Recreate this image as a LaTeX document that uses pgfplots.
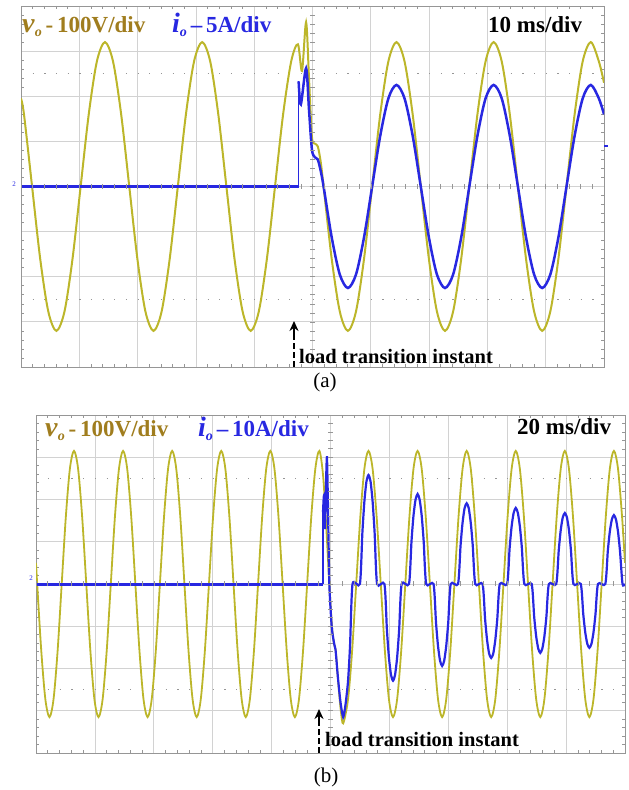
\documentclass[border=0pt]{standalone}
\usepackage{pgfplots}
\pgfplotsset{compat=1.18}
\usetikzlibrary{arrows.meta}
\usepackage{fontspec}
\setmainfont{Liberation Serif}
\definecolor{vcol}{RGB}{188,182,42}
\definecolor{vtxt}{RGB}{160,125,30}
\definecolor{icol}{RGB}{40,40,225}
\definecolor{gridc}{RGB}{210,210,210}
\definecolor{tickc}{RGB}{150,150,150}
\pgfplotsset{osc/.style={scale only axis, anchor=south west, ymin=-4, ymax=4,
  ytick={-4,-3,...,4}, grid=major, grid style={gridc, line width=0.8bp},
  minor x tick num=4, minor y tick num=4, major tick length=0pt, minor tick length=3bp,
  tick style={tickc, line width=0.6bp}, xticklabels={}, yticklabels={},
  axis line style={tickc, line width=0.9bp}, clip=true}}
\begin{document}
\begin{tikzpicture}
\begin{scope}[x=1bp,y=1bp]
\useasboundingbox (0,0) rectangle (626,790);
\end{scope}
% ---------------- panel (a) ----------------
\begin{axis}[osc, at={(21bp,423bp)}, width=583bp, height=361bp, xmin=0, xmax=100, xtick={0,10,...,100}]
\draw[tickc, line width=1.1bp, dash pattern=on 1.2bp off 10.46bp] (axis cs:0,2.5) -- (axis cs:100,2.5);
\draw[tickc, line width=1.1bp, dash pattern=on 1.2bp off 10.46bp] (axis cs:0,-2.5) -- (axis cs:100,-2.5);
\addplot[vcol, line width=2bp, smooth, tension=0.5] coordinates {
(0.00,1.95)(0.51,1.6)(1.90,0)(3.29,-1.6)(4.68,-2.77)(6.07,-3.2)(7.46,-2.77)(8.84,-1.6)(10.23,0)(11.62,1.6)(13.01,2.77)
(14.40,3.2)(15.79,2.77)(17.18,1.6)(18.57,0)(19.96,-1.6)(21.34,-2.77)(22.73,-3.2)(24.12,-2.77)(25.51,-1.6)(26.90,0)(28.29,1.6)(29.68,2.77)
(31.07,3.2)(32.46,2.77)(33.84,1.6)(35.23,0)(36.62,-1.6)(38.01,-2.77)(39.40,-3.2)(40.79,-2.77)(42.18,-1.6)(43.57,0)(44.96,1.6)(46.34,2.77)
(47.50,3.15)(48.20,2.56)(48.90,3.64)(49.40,2.4)(49.90,1.1)(50.40,0.95)(50.90,0.89)(51.40,0.55)(51.90,0)(53.29,-1.6)(54.68,-2.77)
(56.07,-3.2)(57.46,-2.77)(58.84,-1.6)(60.23,0)(61.62,1.6)(63.01,2.77)
(64.40,3.2)(65.79,2.77)(67.18,1.6)(68.57,0)(69.96,-1.6)(71.34,-2.77)(72.73,-3.2)(74.12,-2.77)(75.51,-1.6)(76.90,0)(78.29,1.6)(79.68,2.77)
(81.07,3.2)(82.46,2.77)(83.84,1.6)(85.23,0)(86.62,-1.6)(88.01,-2.77)(89.40,-3.2)(90.79,-2.77)(92.18,-1.6)(93.57,0)(94.96,1.6)(96.34,2.77)
(97.73,3.2)(99.12,2.77)(100.00,2.3)};
\addplot[icol, line width=3bp] coordinates {(0,0)(47.62,0)};
\addplot[icol, line width=1.6bp] coordinates {(47.62,0)(47.62,2.33)};
\addplot[icol, line width=2.5bp, smooth, tension=0.5] coordinates {
(47.62,2.33)(48.00,1.82)(48.90,2.62)(49.40,1.7)(49.90,0.82)(50.40,0.65)(50.90,0.6)(51.40,0.35)(51.90,0)
(53.29,-1.125)(54.68,-1.95)(56.07,-2.25)(57.46,-1.95)(58.84,-1.125)(60.23,0)(61.62,1.125)(63.01,1.95)
(64.40,2.25)(65.79,1.95)(67.18,1.125)(68.57,0)(69.96,-1.125)(71.34,-1.95)(72.73,-2.25)(74.12,-1.95)(75.51,-1.125)(76.90,0)(78.29,1.125)(79.68,1.95)
(81.07,2.25)(82.46,1.95)(83.84,1.125)(85.23,0)(86.62,-1.125)(88.01,-1.95)(89.40,-2.25)(90.79,-1.95)(92.18,-1.125)(93.57,0)(94.96,1.125)(96.34,1.95)
(97.73,2.25)(99.12,1.95)(100.00,1.6)};
\end{axis}
% ---------------- panel (b) ----------------
\begin{axis}[osc, at={(36bp,37bp)}, width=589bp, height=338bp, xmin=0, xmax=200, xtick={0,20,...,200}]
\draw[tickc, line width=1.1bp, dash pattern=on 1.2bp off 10.58bp] (axis cs:0,2.5) -- (axis cs:200,2.5);
\draw[tickc, line width=1.1bp, dash pattern=on 1.2bp off 10.58bp] (axis cs:0,-2.5) -- (axis cs:200,-2.5);
\addplot[vcol, line width=1.8bp, smooth, tension=0.5] coordinates {
(0.00,0.5)(0.40,0)(1.79,-1.58)(3.18,-2.73)(4.57,-3.15)(5.95,-2.73)(7.34,-1.58)(8.73,0)(10.12,1.58)(11.51,2.73)
(12.90,3.15)(14.29,2.73)(15.68,1.58)(17.07,0)(18.46,-1.58)(19.84,-2.73)(21.23,-3.15)(22.62,-2.73)(24.01,-1.58)(25.40,0)(26.79,1.58)(28.18,2.73)
(29.57,3.15)(30.96,2.73)(32.35,1.58)(33.74,0)(35.13,-1.58)(36.51,-2.73)(37.90,-3.15)(39.29,-2.73)(40.68,-1.58)(42.07,0)(43.46,1.58)(44.85,2.73)
(46.23,3.15)(47.62,2.73)(49.01,1.58)(50.40,0)(51.79,-1.58)(53.17,-2.73)(54.56,-3.15)(55.95,-2.73)(57.34,-1.58)(58.73,0)(60.12,1.58)(61.51,2.73)
(62.90,3.15)(64.29,2.73)(65.68,1.58)(67.07,0)(68.46,-1.58)(69.84,-2.73)(71.23,-3.15)(72.62,-2.73)(74.01,-1.58)(75.40,0)(76.79,1.58)(78.18,2.73)
(79.57,3.15)(80.96,2.73)(82.35,1.58)(83.74,0)(85.13,-1.58)(86.51,-2.73)(87.90,-3.15)(89.29,-2.73)(90.68,-1.58)(92.07,0)(93.46,1.58)(94.85,2.73)
(96.23,3.15)(97.50,2.55)(98.60,1.3)(99.60,0)(100.60,-1.1)(101.30,-1.45)(101.80,-1.6)(102.70,-2.4)(103.50,-3.0)(104.30,-3.3)
(105.95,-2.73)(107.34,-1.58)(108.73,0)(110.12,1.58)(111.51,2.73)
(112.90,3.15)(114.29,2.73)(115.68,1.58)(117.07,0)(118.46,-1.58)(119.84,-2.73)(121.23,-3.15)(122.62,-2.73)(124.01,-1.58)(125.40,0)(126.79,1.58)(128.18,2.73)
(129.57,3.15)(130.96,2.73)(132.35,1.58)(133.74,0)(135.13,-1.58)(136.51,-2.73)(137.90,-3.15)(139.29,-2.73)(140.68,-1.58)(142.07,0)(143.46,1.58)(144.85,2.73)
(146.23,3.15)(147.62,2.73)(149.01,1.58)(150.40,0)(151.79,-1.58)(153.17,-2.73)(154.56,-3.15)(155.95,-2.73)(157.34,-1.58)(158.73,0)(160.12,1.58)(161.51,2.73)
(162.90,3.15)(164.29,2.73)(165.68,1.58)(167.07,0)(168.46,-1.58)(169.84,-2.73)(171.23,-3.15)(172.62,-2.73)(174.01,-1.58)(175.40,0)(176.79,1.58)(178.18,2.73)
(179.57,3.15)(180.96,2.73)(182.35,1.58)(183.74,0)(185.13,-1.58)(186.51,-2.73)(187.90,-3.15)(189.29,-2.73)(190.68,-1.58)(192.07,0)(193.46,1.58)(194.85,2.73)
(196.23,3.15)(197.62,2.73)(199.01,1.58)(200.00,0.5)};
\addplot[icol, line width=3bp] coordinates {(0,0)(97.45,0)};
\addplot[icol, line width=1.6bp] coordinates {(97.45,0)(97.45,1.7)};
\addplot[icol, line width=2.2bp, smooth, tension=0.4] coordinates {
(97.45,1.7)(97.8,2.1)(98.1,1.3)(98.45,2.3)(98.8,3.0)(99.2,1.6)(99.6,0)(100.4,-1.0)(101.2,-1.4)(101.7,-1.55)(102.5,-2.2)(103.4,-2.8)
(104.30,-3.15)(105.10,-2.85)(105.95,-2.3)(106.64,-1.45)(107.48,0)(109.98,0)
(110.82,1.21)(111.51,1.96)(112.21,2.43)(112.90,2.58)(113.59,2.43)(114.29,1.96)(114.98,1.21)(115.82,0)(118.31,0)
(119.15,-1.08)(119.84,-1.74)(120.54,-2.15)(121.23,-2.29)(121.92,-2.15)(122.62,-1.74)(123.31,-1.08)(124.15,0)(126.65,0)
(127.49,1.00)(128.18,1.62)(128.88,2.00)(129.57,2.13)(130.26,2.00)(130.96,1.62)(131.65,1.00)(132.49,0)(134.98,0)
(135.82,-0.91)(136.51,-1.47)(137.21,-1.82)(137.90,-1.94)(138.59,-1.82)(139.29,-1.47)(139.98,-0.91)(140.82,0)(143.31,0)
(144.15,0.90)(144.84,1.45)(145.54,1.80)(146.23,1.91)(146.92,1.80)(147.62,1.45)(148.31,0.90)(149.15,0)(151.64,0)
(152.48,-0.82)(153.17,-1.33)(153.87,-1.65)(154.56,-1.75)(155.25,-1.65)(155.95,-1.33)(156.64,-0.82)(157.48,0)(159.98,0)
(160.82,0.85)(161.51,1.37)(162.21,1.69)(162.90,1.80)(163.59,1.69)(164.29,1.37)(164.98,0.85)(165.82,0)(168.31,0)
(169.15,-0.77)(169.84,-1.24)(170.54,-1.53)(171.23,-1.63)(171.92,-1.53)(172.62,-1.24)(173.31,-0.77)(174.15,0)(176.65,0)
(177.49,0.79)(178.18,1.28)(178.88,1.58)(179.57,1.68)(180.26,1.58)(180.96,1.28)(181.65,0.79)(182.49,0)(184.98,0)
(185.82,-0.71)(186.51,-1.15)(187.21,-1.42)(187.90,-1.51)(188.59,-1.42)(189.29,-1.15)(189.98,-0.71)(190.82,0)(193.31,0)
(194.15,0.77)(194.84,1.24)(195.54,1.53)(196.23,1.63)(196.92,1.53)(197.62,1.24)(198.31,0.77)(199.15,0)(200,0)};
\end{axis}
\begin{scope}[x=1bp,y=1bp]
% centre-line ticks (a)
\foreach \i in {0,...,50} \draw[tickc, line width=0.6bp] ({21+\i*11.66},601) -- ++(0,5);
\foreach \j in {0,...,40} \draw[tickc, line width=0.6bp] (310,{423+\j*9.025}) -- ++(5,0);
% markers (a)
\node[text=icol, font=\fontsize{7bp}{7bp}\selectfont, inner sep=0] at (14,606) {2};
\draw[icol, line width=1.2bp] (604,644) -- (608,644);
% texts (a)
\node[anchor=base west, text=vtxt, inner sep=0, font=\fontsize{23bp}{23bp}\selectfont\bfseries] at (22,757)
  {{\fontsize{28bp}{28bp}\selectfont\textit{v}}\raisebox{-0.15em}{\fontsize{14bp}{14bp}\selectfont\textit{o}}\,-\,100V/div};
\node[anchor=base west, text=icol, inner sep=0, font=\fontsize{23bp}{23bp}\selectfont\bfseries] at (172,757)
  {{\fontsize{28bp}{28bp}\selectfont\textit{i}}\raisebox{-0.15em}{\fontsize{14bp}{14bp}\selectfont\textit{o}}\,–\,5A/div};
\node[anchor=base west, inner sep=0, font=\fontsize{23bp}{23bp}\selectfont\bfseries] at (488,757) {10 ms/div};
\draw[line width=2.6bp, dash pattern=on 6bp off 3bp] (294,423) -- (294,456);
\draw[line width=2.6bp, -{Stealth[length=10bp,width=9bp]}] (294,453) -- (294,469);
\node[anchor=base west, inner sep=0, font=\fontsize{20.5bp}{20.5bp}\selectfont\bfseries] at (299,426) {load transition instant};
\node[anchor=base, inner sep=0, font=\fontsize{21bp}{21bp}\selectfont] at (325,402) {(a)};
% centre-line ticks (b)
\foreach \i in {0,...,50} \draw[tickc, line width=0.6bp] ({36+\i*11.78},203.5) -- ++(0,5);
\foreach \j in {0,...,40} \draw[tickc, line width=0.6bp] (328,{37+\j*8.45}) -- ++(5,0);
\node[text=icol, font=\fontsize{7bp}{7bp}\selectfont, inner sep=0] at (31,212) {2};
% texts (b)
\node[anchor=base west, text=vtxt, inner sep=0, font=\fontsize{23bp}{23bp}\selectfont\bfseries] at (45,353)
  {{\fontsize{28bp}{28bp}\selectfont\textit{v}}\raisebox{-0.15em}{\fontsize{14bp}{14bp}\selectfont\textit{o}}\,-\,100V/div};
\node[anchor=base west, text=icol, inner sep=0, font=\fontsize{23bp}{23bp}\selectfont\bfseries] at (198,353)
  {{\fontsize{28bp}{28bp}\selectfont\textit{i}}\raisebox{-0.15em}{\fontsize{14bp}{14bp}\selectfont\textit{o}}\,–\,10A/div};
\node[anchor=base west, inner sep=0, font=\fontsize{23bp}{23bp}\selectfont\bfseries] at (517,355) {20 ms/div};
\draw[line width=2.6bp, dash pattern=on 6bp off 3bp] (319,37) -- (319,68);
\draw[line width=2.6bp, -{Stealth[length=10bp,width=9bp]}] (319,65) -- (319,81);
\node[anchor=base west, inner sep=0, font=\fontsize{20.5bp}{20.5bp}\selectfont\bfseries] at (325,43) {load transition instant};
\node[anchor=base, inner sep=0, font=\fontsize{21bp}{21bp}\selectfont] at (326,7) {(b)};
\end{scope}
\end{tikzpicture}
\end{document}
